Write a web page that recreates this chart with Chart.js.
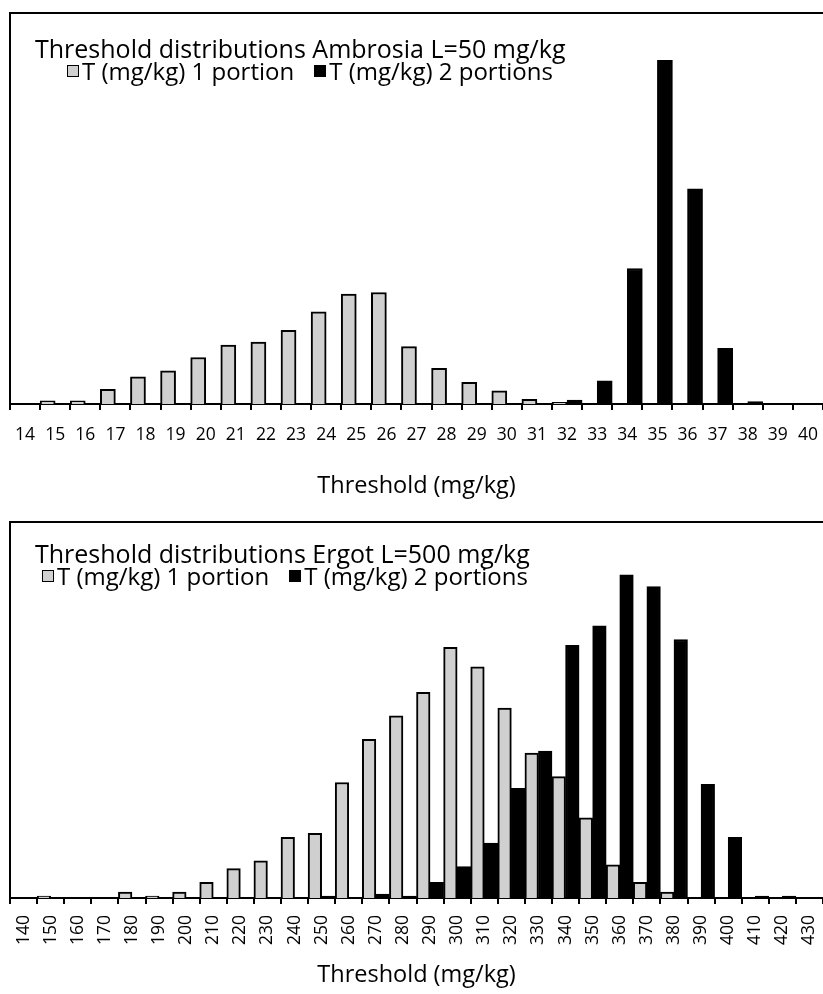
<!DOCTYPE html>
<html>
<head>
<meta charset="utf-8">
<script src="https://cdn.jsdelivr.net/npm/chart.js@4.4.1/dist/chart.umd.min.js"></script>
<style>
  body { margin: 0; background: #fff; font-family: "Open Sans", sans-serif; color: #000; }
  .panel { position: absolute; left: 0; width: 823px; overflow: hidden; }
  .title { position: absolute; font-size: 25px; line-height: 30px; white-space: nowrap; }
  .legend { position: absolute; font-size: 24px; line-height: 28px; white-space: nowrap; display: flex; align-items: center; }
  .legend .box { display: inline-block; width: 10px; height: 10px; border: 1px solid #000; margin-right: 3px; }
  .legend .item { display: flex; align-items: center; margin-right: 20px; }
</style>
</head>
<body>
<div class="panel" style="top:0;height:505px">
  <canvas id="chart1" width="823" height="505"></canvas>
  <div class="title" style="left:35px;top:33px">Threshold distributions Ambrosia L=50 mg/kg</div>
  <div class="legend" id="legend1" style="left:67px;top:57px"></div>
</div>
<div class="panel" style="top:505px;height:489px">
  <canvas id="chart2" width="823" height="489"></canvas>
  <div class="title" style="left:35px;top:33px">Threshold distributions Ergot L=500 mg/kg</div>
  <div class="legend" id="legend2" style="left:42px;top:57px"></div>
</div>
<script>
// share of simulations (%) per threshold class
var ambrosia_labels = ['14','15','16','17','18','19','20','21','22','23','24','25','26','27',
  '28','29','30','31','32','33','34','35','36','37','38','39','40'];
var ambrosia_one = [0, 0.4, 0.4, 1.9, 3.5, 4.3, 6.0, 7.6, 8.0, 9.5, 11.9, 14.2, 14.4, 7.4,
  4.6, 2.8, 1.7, 0.6, 0.2, 0, 0, 0, 0, 0, 0, 0, 0];
var ambrosia_two = [0, 0, 0, 0, 0, 0, 0, 0, 0, 0, 0, 0, 0, 0,
  0, 0, 0, 0, 0.5, 3.0, 17.5, 44.4, 27.8, 7.2, 0.3, 0, 0];

var ergot_labels = ['140','150','160','170','180','190','200','210','220','230','240','250','260','270','280',
  '290','300','310','320','330','340','350','360','370','380','390','400','410','420','430'];
var ergot_one = [0, 0.1, 0, 0, 0.3, 0.1, 0.3, 0.8, 1.5, 1.9, 3.1, 3.3, 5.9, 8.1, 9.3,
  10.5, 12.8, 11.8, 9.7, 7.4, 6.2, 4.1, 1.7, 0.8, 0.3, 0, 0, 0, 0, 0];
var ergot_two = [0, 0, 0, 0, 0, 0, 0, 0, 0, 0, 0, 0.1, 0, 0.2, 0.1,
  0.8, 1.6, 2.8, 5.6, 7.5, 12.9, 13.9, 16.5, 15.9, 13.2, 5.8, 3.1, 0.1, 0.1, 0];

var series_names = ['T (mg/kg) 1 portion', 'T (mg/kg) 2 portions'];
var series_colors = ['#d0d0d0', '#000000'];

// top line of the plot area frame (right side is cropped in the original)
const frameTop = {
  id: 'frameTop',
  afterDraw(chart) {
    const ctx = chart.ctx, a = chart.chartArea;
    ctx.save();
    ctx.strokeStyle = '#000';
    ctx.lineWidth = 2;
    ctx.beginPath();
    ctx.moveTo(a.left - 1, a.top);
    ctx.lineTo(chart.width, a.top);
    ctx.stroke();
    ctx.restore();
  }
};

function makeChart(id, labels, one, two, yMax, padTop, axisHeight, rotation, tickPad) {
  return new Chart(document.getElementById(id).getContext('2d'), {
    type: 'bar',
    data: {
      labels: labels,
      datasets: [
        { label: series_names[0], data: one, backgroundColor: series_colors[0], borderColor: '#000', borderWidth: 2 },
        { label: series_names[1], data: two, backgroundColor: series_colors[1], borderColor: '#000', borderWidth: 2 }
      ]
    },
    options: {
      responsive: false,
      animation: false,
      categoryPercentage: 1,
      barPercentage: 1,
      layout: { padding: { top: padTop, left: 10, right: 0, bottom: 0 } },
      plugins: { legend: { display: false }, title: { display: false }, tooltip: { enabled: false } },
      scales: {
        x: {
          offset: true,
          grid: { display: true, drawOnChartArea: false, offset: true, color: '#000', lineWidth: 2, tickLength: 6 },
          border: { color: '#000', width: 2 },
          ticks: { color: '#000', font: { family: 'Open Sans', size: 17.5 }, autoSkip: false,
                   minRotation: rotation, maxRotation: rotation, padding: tickPad },
          title: { display: true, text: 'Threshold (mg/kg)', color: '#000',
                   font: { family: 'Open Sans', size: 23.5 }, padding: { top: 0, bottom: 5 } },
          afterFit: function(s) { s.height = axisHeight; s.paddingLeft = 0; s.paddingRight = 0; }
        },
        y: {
          min: 0, max: yMax,
          ticks: { display: false },
          grid: { display: false },
          border: { color: '#000', width: 2 },
          afterFit: function(s) { s.width = 0; }
        }
      }
    },
    plugins: [frameTop]
  });
}

function fillLegend(id) {
  var el = document.getElementById(id);
  series_names.forEach(function(name, i) {
    var item = document.createElement('span');
    item.className = 'item';
    var box = document.createElement('span');
    box.className = 'box';
    box.style.background = series_colors[i];
    item.appendChild(box);
    item.appendChild(document.createTextNode(name));
    el.appendChild(item);
  });
}

makeChart('chart1', ambrosia_labels, ambrosia_one, ambrosia_two, 50.5, 13, 101, 0, 15);
makeChart('chart2', ergot_labels, ergot_one, ergot_two, 19.2, 17, 96, 90, 11);
fillLegend('legend1');
fillLegend('legend2');
</script>
</body>
</html>
